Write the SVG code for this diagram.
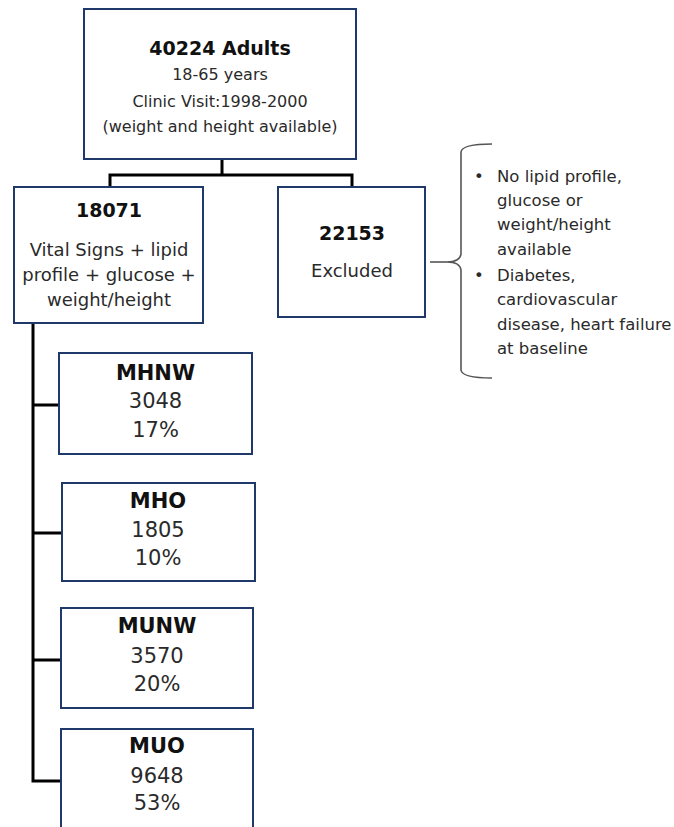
<svg xmlns="http://www.w3.org/2000/svg" width="674" height="827" viewBox="0 0 674 827">
<style>
.box{fill:#fff;stroke:#1f3a6a;stroke-width:2}
.con{fill:none;stroke:#000;stroke-width:3}
.brace{fill:none;stroke:#555;stroke-width:1.6}
text{font-family:"DejaVu Sans","Liberation Sans",sans-serif;fill:#2a2a2a;text-anchor:middle}
.b{font-weight:bold;fill:#111}
.t1{font-size:19px}
.t2{font-size:16px}
.t3{font-size:18px}
.t4{font-size:21px}
.bl{font-size:16.5px;text-anchor:start}
</style>
<rect width="674" height="827" fill="#fff"/>
<g id="connectors">
<path class="con" d="M222,159 V175 M110,187 V175 H352 V187"/>
<path class="con" d="M33,323 V781 H61 M33,405 H59 M33,533 H62 M33,660 H61"/>
<path class="brace" d="M430,262 H447"/>
</g>
<g id="n40224">
<rect class="box" x="84" y="9" width="272" height="150"/>
<text class="b t1" x="220" y="55">40224 Adults</text>
<text class="t2" x="220" y="80">18-65 years</text>
<text class="t2" x="220" y="107">Clinic Visit:1998-2000</text>
<text class="t2" x="220" y="132">(weight and height available)</text>
</g>
<g id="n18071">
<rect class="box" x="14" y="187" width="189" height="136"/>
<text class="b t1" x="109" y="217">18071</text>
<text class="t3" x="109" y="256">Vital Signs + lipid</text>
<text class="t3" x="109" y="281">profile + glucose +</text>
<text class="t3" x="109" y="306">weight/height</text>
</g>
<g id="n22153">
<rect class="box" x="278" y="187" width="147" height="130"/>
<text class="b t1" x="352" y="240">22153</text>
<text class="t3" x="352" y="277">Excluded</text>
</g>
<g id="exclusions">
<path class="brace" d="M492,144 Q462,144 461,152 L461,254 Q460,262 447,262 Q460,262 461,270 L461,370 Q462,378 492,378"/>
<text class="bl" x="474" y="182">•</text>
<text class="bl" x="497" y="182">No lipid profile,</text>
<text class="bl" x="497" y="206">glucose or</text>
<text class="bl" x="497" y="230">weight/height</text>
<text class="bl" x="497" y="255">available</text>
<text class="bl" x="474" y="281">•</text>
<text class="bl" x="497" y="281">Diabetes,</text>
<text class="bl" x="497" y="305">cardiovascular</text>
<text class="bl" x="497" y="330">disease, heart failure</text>
<text class="bl" x="497" y="354">at baseline</text>
</g>
<g id="mhnw">
<rect class="box" x="59" y="353" width="193" height="101"/>
<text class="b t4" x="155.5" y="380">MHNW</text>
<text class="t4" x="155.5" y="408">3048</text>
<text class="t4" x="155.5" y="437">17%</text>
</g>
<g id="mho">
<rect class="box" x="62" y="483" width="193" height="98"/>
<text class="b t4" x="158" y="508">MHO</text>
<text class="t4" x="158" y="537">1805</text>
<text class="t4" x="158" y="565">10%</text>
</g>
<g id="munw">
<rect class="box" x="61" y="608" width="192" height="100"/>
<text class="b t4" x="157" y="633">MUNW</text>
<text class="t4" x="157" y="663">3570</text>
<text class="t4" x="157" y="691">20%</text>
</g>
<g id="muo">
<rect class="box" x="61" y="729" width="192" height="110"/>
<text class="b t4" x="157" y="753">MUO</text>
<text class="t4" x="157" y="783">9648</text>
<text class="t4" x="157" y="810">53%</text>
</g>
</svg>
